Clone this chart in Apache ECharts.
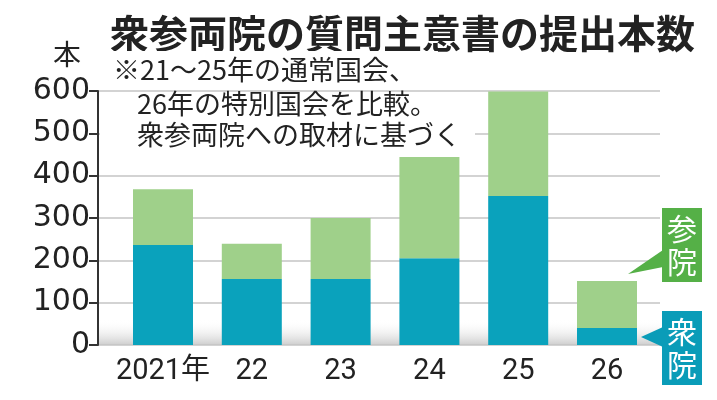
<!DOCTYPE html>
<html>
<head>
<meta charset="utf-8">
<script src="https://cdn.jsdelivr.net/npm/echarts@6/dist/echarts.min.js"></script>
<style>html,body{margin:0;padding:0;background:#fff;}#c{width:717px;height:400px;}</style>
</head>
<body>
<div id="c"></div>
<script>
const categories = ['2021年', '22', '23', '24', '25', '26'];
const shuin = [236, 156, 156, 205, 352, 40];
const sangin = [132, 83, 144, 239, 247, 111];
const yTicks = [0, 100, 200, 300, 400, 500, 600];
const titleText = '衆参両院の質問主意書の提出本数';
const unitText = '本';
const noteLines = ['※21～25年の通常国会、', '26年の特別国会を比較。', '衆参両院への取材に基づく'];
const seriesNames = ['衆院', '参院'];

const cjk = '"Noto Sans CJK JP", sans-serif';
const chart = echarts.init(document.getElementById('c'), null, {renderer: 'canvas'});
const option = {
  animation: false,
  backgroundColor: '#fff',
  grid: [
    {left: 98, right: 57, top: 91, bottom: 55, show: true, borderWidth: 0,
     backgroundColor: {type: 'linear', x: 0, y: 0, x2: 0, y2: 1,
       colorStops: [{offset: 0, color: 'rgba(255,255,255,0)'}, {offset: 0.9, color: 'rgba(255,255,255,0)'}, {offset: 1, color: 'rgba(205,205,205,1)'}]}},
    {left: 118.6, right: 65.6, top: 91, bottom: 55}
  ],
  xAxis: [
    {type: 'value', gridIndex: 0, show: false, min: 0, max: 1},
    {type: 'category', gridIndex: 1, data: categories,
     axisLine: {show: false}, axisTick: {show: false},
     axisLabel: {interval: 0, color: '#222', fontSize: 29, fontFamily: 'Roboto, "Noto Sans CJK JP"', margin: 12}}
  ],
  yAxis: [
    {type: 'value', gridIndex: 0, min: yTicks[0], max: yTicks[yTicks.length - 1], interval: 100,
     axisLine: {show: true, lineStyle: {color: '#333', width: 2}},
     axisTick: {show: true, length: 9, lineStyle: {color: '#333', width: 2}},
     axisLabel: {color: '#222', fontSize: 30, fontFamily: '"DejaVu Sans"', margin: 8},
     splitLine: {show: true, lineStyle: {color: '#c4c4c4', width: 1.5}}},
    {type: 'value', gridIndex: 1, min: yTicks[0], max: yTicks[yTicks.length - 1], show: false, splitLine: {show: false}}
  ],
  series: [
    {name: seriesNames[0], type: 'bar', stack: 'a', xAxisIndex: 1, yAxisIndex: 1, data: shuin, barWidth: 60,
     itemStyle: {color: '#0aa2bc'}},
    {name: seriesNames[1], type: 'bar', stack: 'a', xAxisIndex: 1, yAxisIndex: 1, data: sangin, barWidth: 60,
     itemStyle: {color: '#9fd08a'}}
  ],
  graphic: [
    {type: 'text', x: 110, y: 33, z: 100, style: {text: titleText, fontSize: 39, fontWeight: 'bold', fontFamily: cjk, fill: '#222', verticalAlign: 'middle'}},
    {type: 'text', x: 67, y: 54, z: 100, style: {text: unitText, fontSize: 28, fontFamily: cjk, fill: '#222', align: 'center', verticalAlign: 'middle'}},
    {type: 'text', x: 100, y: 70, z: 100, style: {text: noteLines[0], fontSize: 27, fontFamily: cjk, fill: '#222', verticalAlign: 'middle', backgroundColor: '#fff', padding: [2, 22, 9, 13]}},
    {type: 'text', x: 137, y: 104, z: 101, style: {text: noteLines[1], fontSize: 27, fontFamily: cjk, fill: '#222', verticalAlign: 'middle'}},
    {type: 'text', x: 100, y: 135, z: 100, style: {text: noteLines[2], fontSize: 27, fontFamily: cjk, fill: '#222', verticalAlign: 'middle', backgroundColor: '#fff', padding: [0, 14, 0, 37]}},
    {type: 'polygon', z: 100, shape: {points: [[663, 250], [628, 274], [663, 267]]}, style: {fill: '#55b047'}},
    {type: 'rect', z: 100, shape: {x: 662, y: 208, width: 40, height: 74}, style: {fill: '#55b047'}},
    {type: 'text', x: 682, y: 245, z: 101, style: {text: '参\n院', fontSize: 30, lineHeight: 33, fontFamily: cjk, fill: '#fff', align: 'center', verticalAlign: 'middle'}},
    {type: 'polygon', z: 100, shape: {points: [[663, 327], [641, 337], [663, 347]]}, style: {fill: '#0a9cb8'}},
    {type: 'rect', z: 100, shape: {x: 662, y: 311, width: 40, height: 74}, style: {fill: '#0a9cb8'}},
    {type: 'text', x: 682, y: 348, z: 101, style: {text: '衆\n院', fontSize: 30, lineHeight: 33, fontFamily: cjk, fill: '#fff', align: 'center', verticalAlign: 'middle'}}
  ]
};
chart.setOption(option);
</script>
</body>
</html>
